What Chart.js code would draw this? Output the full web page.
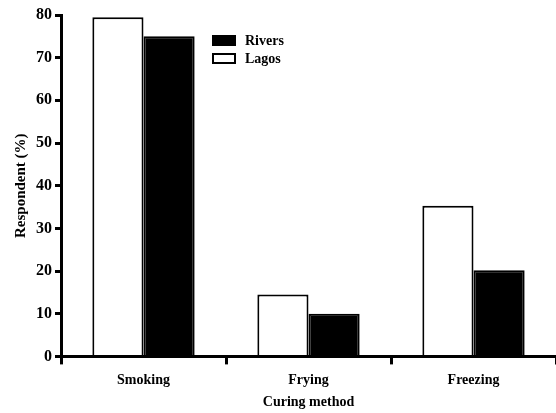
<!DOCTYPE html>
<html>
<head>
<meta charset="utf-8">
<style>
    html, body { margin: 0; padding: 0; background: #fff; }
    #wrap { width: 556px; height: 413px; }
</style>
</head>
<body>
<div id="wrap"><canvas id="chart"></canvas></div>
<script src="https://cdn.jsdelivr.net/npm/chart.js"></script>
<script>
    const methods = ['Smoking', 'Frying', 'Freezing'];
    const lagos = [79.5, 14.5, 35.3];
    const rivers = [75, 10, 20.2];
    const yTicks = [0, 10, 20, 30, 40, 50, 60, 70, 80];

    const font = 'Liberation Serif';

    // legend drawn inside the plot, Rivers first
    const innerLegend = {
        id: 'innerLegend',
        afterDraw(chart) {
            const ctx = chart.ctx;
            const sets = chart.data.datasets.slice().reverse();
            ctx.save();
            ctx.font = 'bold 14px "' + font + '"';
            ctx.textBaseline = 'middle';
            sets.forEach((ds, i) => {
                const y = 41 + i * 18;
                ctx.fillStyle = ds.backgroundColor;
                ctx.strokeStyle = '#000';
                ctx.lineWidth = 2;
                ctx.fillRect(213, y - 5, 22, 9);
                ctx.strokeRect(213, y - 5, 22, 9);
                ctx.fillStyle = '#000';
                ctx.fillText(ds.label, 245, y);
            });
            ctx.restore();
        }
    };

    new Chart(document.getElementById('chart'), {
        type: 'bar',
        data: {
            labels: methods,
            datasets: [
                { label: 'Lagos', data: lagos, backgroundColor: '#ffffff', borderColor: '#000', borderWidth: 2 },
                { label: 'Rivers', data: rivers, backgroundColor: '#000000', borderColor: '#000', borderWidth: 2 }
            ]
        },
        options: {
            responsive: true,
            maintainAspectRatio: false,
            animation: false,
            layout: { padding: { top: 15, right: 0, left: 8, bottom: 2 } },
            plugins: {
                legend: { display: false },
                tooltip: { enabled: false }
            },
            datasets: { bar: { categoryPercentage: 0.62, barPercentage: 1 } },
            scales: {
                x: {
                    border: { display: true, color: '#000', width: 3 },
                    grid: { display: true, drawOnChartArea: false, offset: true, color: '#000', tickColor: '#000', tickLength: 8, lineWidth: 3 },
                    ticks: { color: '#000', font: { family: font, weight: 'bold', size: 14 }, padding: 8 },
                    title: { display: true, text: 'Curing method', color: '#000', font: { family: font, weight: 'bold', size: 14 }, padding: { top: -3, bottom: 0 } }
                },
                y: {
                    min: 0,
                    max: 80,
                    afterBuildTicks(scale) { scale.ticks = yTicks.map(v => ({ value: v })); },
                    border: { display: true, color: '#000', width: 3 },
                    grid: { display: true, drawOnChartArea: false, color: '#000', tickColor: '#000', tickLength: 6, lineWidth: 3 },
                    ticks: { color: '#000', font: { family: font, weight: 'bold', size: 16 }, padding: 3 },
                    title: { display: true, text: 'Respondent (%)', color: '#000', font: { family: font, weight: 'bold', size: 15 }, padding: { bottom: 3 } }
                }
            }
        },
        plugins: [innerLegend]
    });
</script>
</body>
</html>
